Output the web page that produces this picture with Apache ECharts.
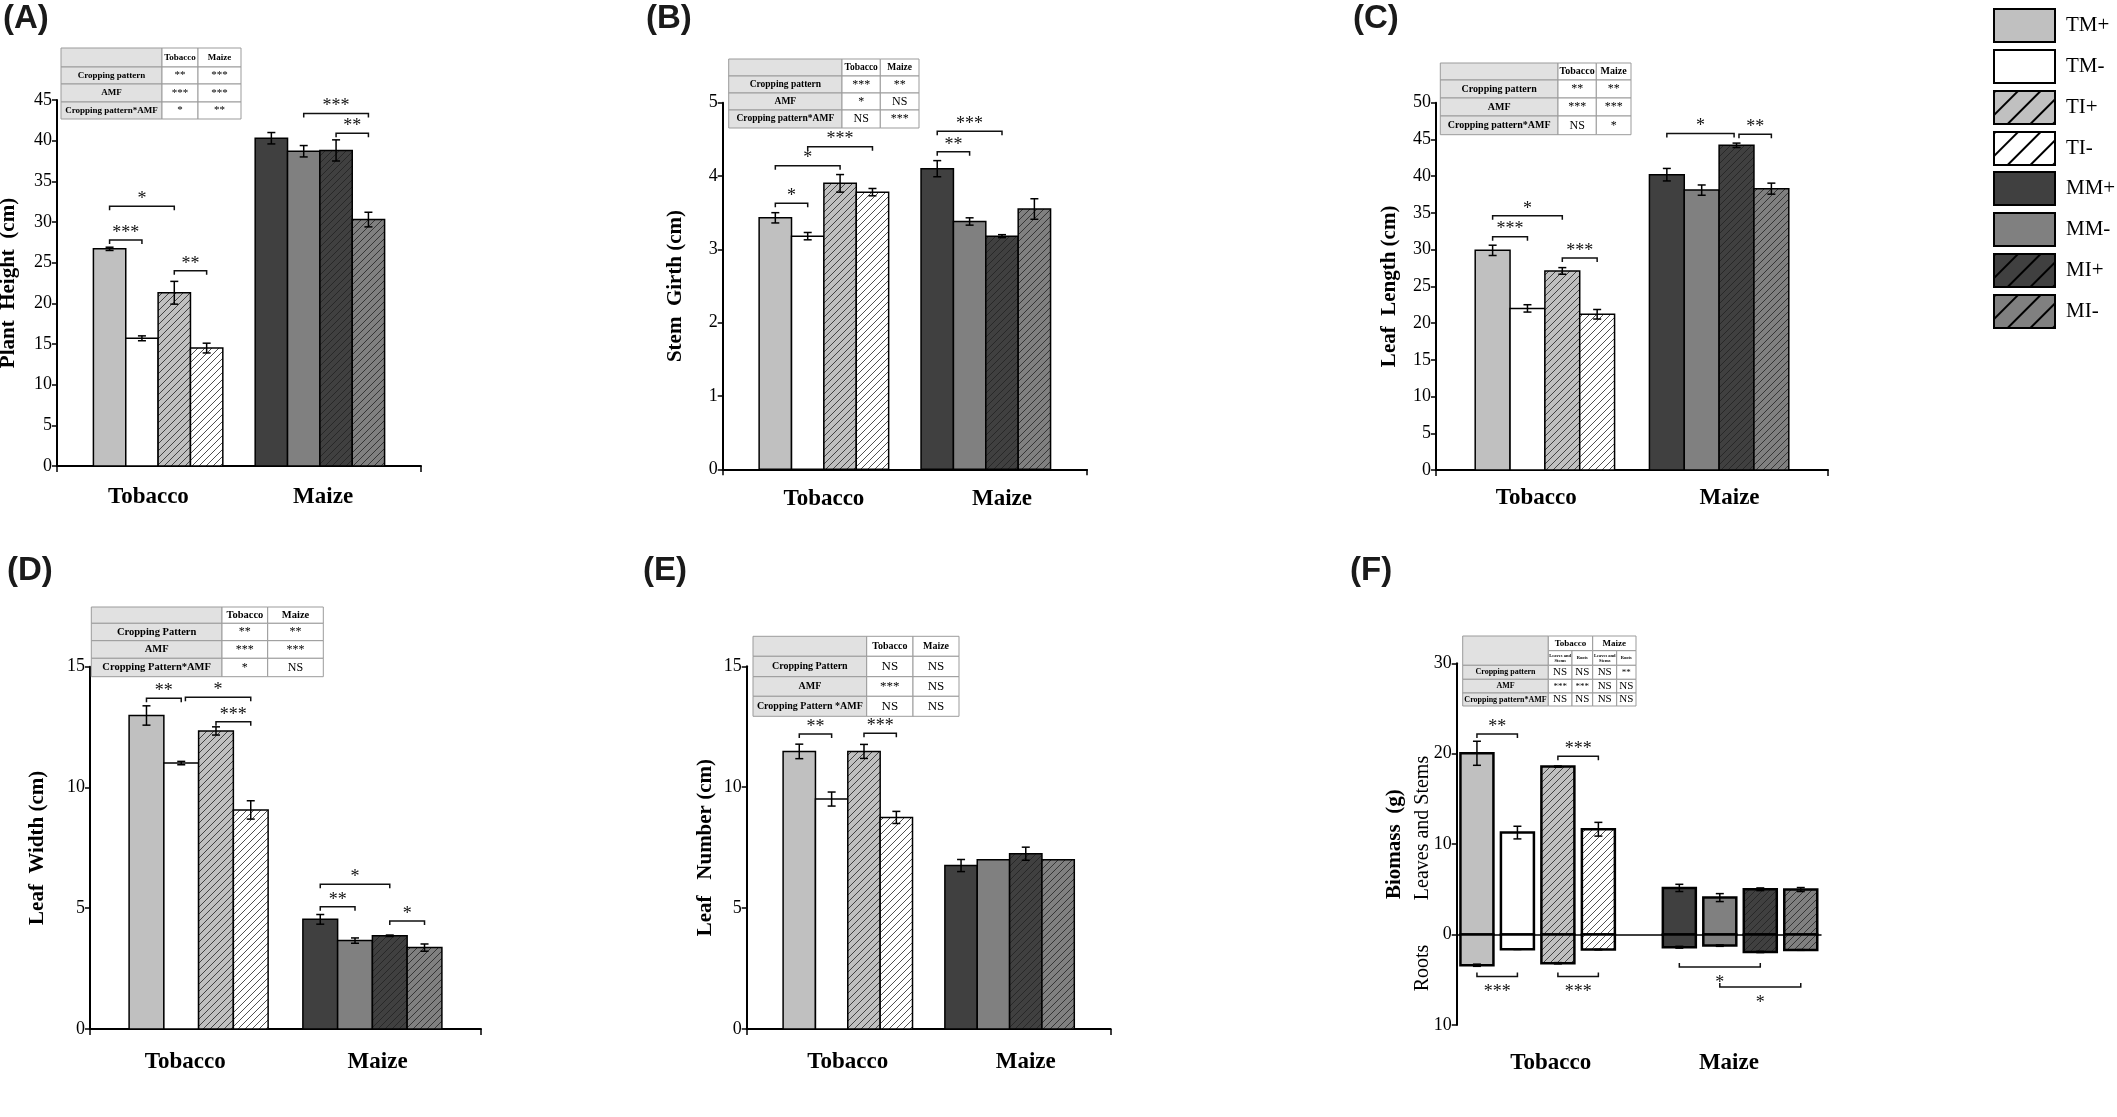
<!DOCTYPE html>
<html>
<head>
<meta charset="utf-8">
<script src="https://cdn.jsdelivr.net/npm/echarts@6/dist/echarts.min.js"></script>
<style>
  html, body { margin: 0; padding: 0; background: #fff; }
  #main { width: 2117px; height: 1117px; }
</style>
</head>
<body>
<div id="main"></div>
<script>
var groups = ['Tobacco', 'Maize'];
var treatments = ['TM+', 'TM-', 'TI+', 'TI-', 'MM+', 'MM-', 'MI+', 'MI-'];

// (A) plant height
var heightMean = [26.7, 15.7, 21.3, 14.5, 40.3, 38.7, 38.8, 30.3];
var heightErr = [0.2, 0.3, 1.4, 0.6, 0.7, 0.7, 1.3, 0.9];
var heightSig = [[0, 1, 27.8, '***'], [0, 2, 31.95, '*'], [2, 3, 24.0, '**'], [5, 7, 43.35, '***'], [6, 7, 40.9, '**']];
var heightTable = [['**', '***'], ['***', '***'], ['*', '**']];

// (B) stem girth
var girthMean = [3.43, 3.18, 3.90, 3.78, 4.10, 3.38, 3.18, 3.55];
var girthErr = [0.07, 0.05, 0.12, 0.05, 0.11, 0.05, 0.02, 0.14];
var girthSig = [[0, 1, 3.63, '*'], [0, 2, 4.14, '*'], [1, 3, 4.40, '***'], [4, 5, 4.33, '**'], [4, 6, 4.61, '***']];
var girthTable = [['***', '**'], ['*', 'NS'], ['NS', '***']];

// (C) leaf length
var lengthMean = [29.9, 22.0, 27.1, 21.2, 40.2, 38.1, 44.2, 38.3];
var lengthErr = [0.7, 0.5, 0.45, 0.65, 0.85, 0.7, 0.3, 0.75];
var lengthSig = [[0, 1, 31.76, '***'], [0, 2, 34.6, '*'], [2, 3, 28.86, '***'], [4, 5.93, 45.8, '*'], [6.07, 7, 45.7, '**']];
var lengthTable = [['**', '**'], ['***', '***'], ['NS', '*']];

// (D) leaf width
var widthMean = [12.98, 11.01, 12.34, 9.07, 4.54, 3.66, 3.86, 3.37];
var widthErr = [0.4, 0.07, 0.17, 0.38, 0.2, 0.11, 0.03, 0.15];
var widthSig = [[0, 1, 13.69, '**'], [1.12, 3, 13.73, '*'], [2, 3, 12.72, '***'], [4, 6, 5.99, '*'], [4, 5, 5.06, '**'], [6, 7, 4.47, '*']];
var widthTable = [['**', '**'], ['***', '***'], ['*', 'NS']];

// (E) leaf number
var numberMean = [11.48, 9.51, 11.48, 8.75, 6.76, 7.0, 7.25, 7.0];
var numberErr = [0.3, 0.29, 0.29, 0.25, 0.25, 0, 0.27, 0];
var numberSig = [[0, 1, 12.2, '**'], [2, 3, 12.23, '***']];
var numberTable = [['NS', 'NS'], ['***', 'NS'], ['NS', 'NS']];

// (F) biomass: leaves and stems up, roots down
var shootMean = [20.05, 11.28, 18.58, 11.65, 5.16, 4.09, 5.01, 4.98];
var shootErr = [1.33, 0.7, 0.07, 0.76, 0.4, 0.44, 0.15, 0.22];
var rootMean = [-3.39, -1.62, -3.17, -1.66, -1.4, -1.22, -1.92, -1.7];
var rootErr = [0.12, 0.03, 0.07, 0.03, 0.1, 0.08, 0.07, 0.04];
var biomassSig = [[0, 1, 22.19, '**'], [2, 3, 19.72, '***'], [0, 1, -4.64, '***'], [2, 3, -4.64, '***'], [4, 6, -3.58, '*'], [5, 7, -5.79, '*']];
var biomassSub = ['Leaves and\nStems', 'Roots', 'Leaves and\nStems', 'Roots'];
var biomassTable = [['NS', 'NS', 'NS', '**'], ['***', '***', 'NS', 'NS'], ['NS', 'NS', 'NS', 'NS']];

var effectRows = ['Cropping pattern', 'AMF', 'Cropping pattern*AMF'];
var effectRowsCap = ['Cropping Pattern', 'AMF', 'Cropping Pattern*AMF'];
var effectRowsE = ['Cropping Pattern', 'AMF', 'Cropping Pattern *AMF'];

// styles
var FONT = "'Liberation Serif', 'Times New Roman', serif";
var fills = ['#c0c0c0', '#ffffff', '#c0c0c0', '#ffffff', '#404040', '#808080', '#404040', '#808080'];
var hatched = [false, false, true, true, false, false, true, true];

var panels = [
  { letter: '(A)', lp: [3, 18.5], rect: [57, 100, 364, 366], y: [0, 45, 5], x: [-0.625, 1.625], bw: 0.2, lw: 1.5,
    name: 'Plant  Height  (cm)', gap: 38, lm: 20, catPos: [-0.06, 1.02],
    mean: heightMean, err: heightErr, sig: heightSig,
    table: { x: 61, y: 48, cols: [101, 36, 43], rows: [19, 17, 18, 17], f: 9, vf: 11, labels: effectRows, vals: heightTable } },
  { letter: '(B)', lp: [646, 18.5], rect: [722.7, 102.7, 364.3, 366.6], y: [0, 5, 1], x: [-0.625, 1.625], bw: 0.2, lw: 1.5,
    name: 'Stem  Girth (cm)', gap: 37, lm: 18, catPos: [0, 1.1],
    mean: girthMean, err: girthErr, sig: girthSig,
    table: { x: 728.7, y: 59, cols: [113.3, 38.3, 38.7], rows: [17, 17, 17, 18], f: 9.5, vf: 12, labels: effectRows, vals: girthTable } },
  { letter: '(C)', lp: [1353, 18.5], rect: [1436, 102.7, 392, 367.3], y: [0, 50, 5], x: [-0.625, 1.625], bw: 0.2, lw: 1.5,
    name: 'Leaf  Length (cm)', gap: 36, lm: 17, catPos: [-0.05, 1.06],
    mean: lengthMean, err: lengthErr, sig: lengthSig,
    table: { x: 1440.3, y: 63, cols: [117.7, 38.3, 34.7], rows: [17, 18, 18, 18.7], f: 10, vf: 12, labels: effectRows, vals: lengthTable } },
  { letter: '(D)', lp: [7, 571], rect: [90, 666.7, 391, 362.3], y: [0, 15, 5], x: [-0.625, 1.625], bw: 0.2, lw: 1.5,
    name: 'Leaf  Width (cm)', gap: 42, lm: 22, catPos: [-0.077, 1.03],
    mean: widthMean, err: widthErr, sig: widthSig,
    table: { x: 91.3, y: 607, cols: [130.7, 45.7, 55.6], rows: [16.3, 17.4, 17.6, 18.4], f: 10.5, vf: 12, labels: effectRowsCap, vals: widthTable } },
  { letter: '(E)', lp: [643, 571], rect: [746.7, 666.3, 364, 362.7], y: [0, 15, 5], x: [-0.625, 1.625], bw: 0.2, lw: 1.5,
    name: 'Leaf   Number (cm)', gap: 31, lm: 22, catPos: [0, 1.1],
    mean: numberMean, err: numberErr, sig: numberSig,
    table: { x: 753, y: 636.3, cols: [113.7, 46.3, 46], rows: [20, 20.4, 19.6, 20], f: 10, vf: 13, labels: effectRowsE, vals: numberTable } },
  { letter: '(F)', lp: [1350, 571], rect: [1456.7, 663.3, 364.3, 361.7], y: [-10, 30, 10], x: [-0.4, 1.4], bw: 0.163, lw: 2.5,
    name: 'Biomass  (g)', gap: 52, lm: 27, catPos: [0.065, 0.945],
    mean: shootMean, err: shootErr, mean2: rootMean, err2: rootErr, sig: biomassSig }
];

function barPos(i) {
  return Math.floor(i / 4) + (i % 4 - 1.5) * 0.2;
}

function barRenderer(bw, lw) {
  return function (params, api) {
    var i = api.value(0), m = api.value(1), e = api.value(2);
    var xc = barPos(i);
    var p0 = api.coord([xc - bw / 2, 0]);
    var p1 = api.coord([xc + bw / 2, m]);
    var x0 = Math.min(p0[0], p1[0]), x1 = Math.max(p0[0], p1[0]);
    var y0 = Math.min(p0[1], p1[1]), y1 = Math.max(p0[1], p1[1]);
    var kids = [{ type: 'rect', shape: { x: x0, y: y0, width: x1 - x0, height: y1 - y0 }, style: { fill: fills[i] } }];
    if (hatched[i]) {
      var s = 7;
      for (var c = Math.ceil((x0 + y0) / s) * s; c < x1 + y1; c += s) {
        var xa = Math.max(x0, c - y1), xb = Math.min(x1, c - y0);
        if (xb - xa > 0.5) {
          kids.push({ type: 'line', shape: { x1: xa, y1: c - xa, x2: xb, y2: c - xb }, style: { stroke: '#222', lineWidth: 0.8 } });
        }
      }
    }
    kids.push({ type: 'rect', shape: { x: x0, y: y0, width: x1 - x0, height: y1 - y0 }, style: { fill: null, stroke: '#000', lineWidth: lw } });
    if (e > 0) {
      var a = api.coord([xc, m - e]), b = api.coord([xc, m + e]);
      var st = { stroke: '#000', lineWidth: 1.5 };
      kids.push({ type: 'line', shape: { x1: a[0], y1: a[1], x2: b[0], y2: b[1] }, style: st });
      kids.push({ type: 'line', shape: { x1: a[0] - 4, y1: a[1], x2: a[0] + 4, y2: a[1] }, style: st });
      kids.push({ type: 'line', shape: { x1: b[0] - 4, y1: b[1], x2: b[0] + 4, y2: b[1] }, style: st });
    }
    return { type: 'group', children: kids };
  };
}

function sigRenderer(list) {
  return function (params, api) {
    var b = list[params.dataIndex];
    var below = b[2] < 0;
    var p = api.coord([barPos(b[0]), b[2]]), q = api.coord([barPos(b[1]), b[2]]);
    var t = below ? -4 : 4;
    return { type: 'group', children: [
      { type: 'polyline', shape: { points: [[p[0], p[1] + t], [p[0], p[1]], [q[0], q[1]], [q[0], q[1] + t]] },
        style: { fill: null, stroke: '#111', lineWidth: 1.5 } },
      { type: 'text', x: (p[0] + q[0]) / 2, y: below ? p[1] + 16 : p[1] - 7,
        style: { text: b[3], textAlign: 'center', textVerticalAlign: 'middle', font: '18px ' + FONT, fill: '#111' } }
    ] };
  };
}

function tableGraphics(t, cells) {
  var out = [];
  var xs = [t.x], ys = [t.y];
  t.cols.forEach(function (w) { xs.push(xs[xs.length - 1] + w); });
  t.rows.forEach(function (h) { ys.push(ys[ys.length - 1] + h); });
  cells.forEach(function (c) {
    var x0 = xs[c.c], x1 = xs[c.c + (c.cs || 1)], y0 = ys[c.r], y1 = ys[c.r + (c.rs || 1)];
    out.push({ type: 'rect', z: 20, shape: { x: x0, y: y0, width: x1 - x0, height: y1 - y0 },
      style: { fill: c.grey ? '#e1e1e1' : '#fff', stroke: '#9b9b9b', lineWidth: 1 } });
    if (c.text) {
      out.push({ type: 'text', z: 21, x: (x0 + x1) / 2, y: (y0 + y1) / 2,
        style: { text: c.text, textAlign: 'center', textVerticalAlign: 'middle', font: c.font, fill: '#000', lineHeight: c.lh } });
    }
  });
  return out;
}

function effectCells(t) {
  var bold = 'bold ' + t.f + 'px ' + FONT, reg = t.vf + 'px ' + FONT;
  var cells = [{ r: 0, c: 0, grey: true }, { r: 0, c: 1, text: 'Tobacco', font: bold }, { r: 0, c: 2, text: 'Maize', font: bold }];
  t.labels.forEach(function (lab, r) {
    cells.push({ r: r + 1, c: 0, grey: true, text: lab, font: bold });
    cells.push({ r: r + 1, c: 1, text: t.vals[r][0], font: reg });
    cells.push({ r: r + 1, c: 2, text: t.vals[r][1], font: reg });
  });
  return cells;
}

function biomassCells() {
  var bold = 'bold 8px ' + FONT, reg = '11px ' + FONT;
  var cells = [{ r: 0, c: 0, rs: 2, grey: true },
    { r: 0, c: 1, cs: 2, text: 'Tobacco', font: 'bold 9px ' + FONT },
    { r: 0, c: 3, cs: 2, text: 'Maize', font: 'bold 9px ' + FONT }];
  biomassSub.forEach(function (s, j) {
    cells.push({ r: 1, c: j + 1, text: s, font: 'bold 4.5px ' + FONT, lh: 5 });
  });
  effectRows.forEach(function (lab, r) {
    cells.push({ r: r + 2, c: 0, grey: true, text: lab, font: bold });
    biomassTable[r].forEach(function (v, j) {
      cells.push({ r: r + 2, c: j + 1, text: v, font: v === 'NS' ? reg : '9px ' + FONT });
    });
  });
  return cells;
}

var grids = [], xAxes = [], yAxes = [], series = [], graphics = [];

panels.forEach(function (p, k) {
  var isF = !!p.mean2;
  grids.push({ left: p.rect[0], top: p.rect[1], width: p.rect[2], height: p.rect[3], containLabel: false, outerBoundsMode: 'none' });
  xAxes.push({
    gridIndex: k, type: 'value', min: p.x[0], max: p.x[1],
    axisLine: { show: !isF, onZero: false, lineStyle: { color: '#000', width: 2 } },
    axisTick: { show: !isF, customValues: p.x, length: 6, lineStyle: { color: '#000', width: 1.5 } },
    axisLabel: {
      customValues: p.catPos, margin: p.lm, color: '#000', fontFamily: FONT, fontSize: 23, fontWeight: 'bold',
      formatter: function (v) { return groups[v < 0.5 ? 0 : 1]; }
    },
    splitLine: { show: false }
  });
  yAxes.push({
    gridIndex: k, type: 'value', min: p.y[0], max: p.y[1], interval: p.y[2],
    name: p.name, nameLocation: 'middle', nameRotate: 90, nameGap: p.gap,
    nameTextStyle: { fontFamily: FONT, fontWeight: 'bold', fontSize: 21, color: '#000' },
    axisLine: { show: true, onZero: false, lineStyle: { color: '#000', width: 2 } },
    axisTick: { show: true, length: 5, lineStyle: { color: '#000', width: 1.5 } },
    axisLabel: { color: '#000', fontFamily: FONT, fontSize: 18, margin: 5, formatter: function (v) { return Math.abs(v); } },
    splitLine: { show: false }
  });
  series.push({
    type: 'custom', xAxisIndex: k, yAxisIndex: k, clip: false, z: 3,
    data: p.mean.map(function (m, i) { return [i, m, p.err[i]]; }),
    renderItem: barRenderer(p.bw, p.lw)
  });
  if (isF) {
    series.push({
      type: 'custom', xAxisIndex: k, yAxisIndex: k, clip: false, z: 3,
      data: p.mean2.map(function (m, i) { return [i, m, p.err2[i]]; }),
      renderItem: barRenderer(p.bw, p.lw)
    });
  }
  series.push({
    type: 'custom', xAxisIndex: k, yAxisIndex: k, clip: false, z: 4,
    data: p.sig.map(function (b) { return [barPos(b[0]), b[2]]; }),
    renderItem: sigRenderer(p.sig)
  });
  graphics.push({ type: 'text', x: p.lp[0], y: p.lp[1],
    style: { text: p.letter, textVerticalAlign: 'middle', font: 'bold 33px "Liberation Sans", Arial, sans-serif', fill: '#1a1a1a' } });
  if (p.table) {
    graphics = graphics.concat(tableGraphics(p.table, effectCells(p.table)));
  }
});

// zero baseline of panel F
xAxes.push({
  gridIndex: 5, type: 'value', min: panels[5].x[0], max: panels[5].x[1], position: 'bottom',
  axisLine: { show: true, onZero: true, lineStyle: { color: '#000', width: 1.5 } },
  axisTick: { show: false }, axisLabel: { show: false }, splitLine: { show: false }
});
graphics = graphics.concat(tableGraphics(
  { x: 1462.7, y: 636, cols: [85.6, 23.7, 20.7, 24, 19.3], rows: [14.7, 14.6, 14, 13.7, 13] }, biomassCells()));
graphics.push({ type: 'text', x: 1423, y: 828, rotation: Math.PI / 2,
  style: { text: 'Leaves and Stems', textAlign: 'center', textVerticalAlign: 'middle', font: '20px ' + FONT, fill: '#000' } });
graphics.push({ type: 'text', x: 1423, y: 968, rotation: Math.PI / 2,
  style: { text: 'Roots', textAlign: 'center', textVerticalAlign: 'middle', font: '20px ' + FONT, fill: '#000' } });

// legend entries
var hatchDecal = { symbol: 'rect', symbolSize: 1, dashArrayX: [1, 0], dashArrayY: [1.5, 14], rotation: -Math.PI / 4, color: '#000' };
treatments.forEach(function (name, i) {
  var st = { color: fills[i], borderColor: '#000', borderWidth: 2 };
  if (hatched[i]) st.decal = hatchDecal;
  series.push({ type: 'custom', name: name, xAxisIndex: 0, yAxisIndex: 0, data: [], renderItem: function () { return null; }, itemStyle: st });
});
function legendAt(top, names) {
  return {
    data: names, orient: 'vertical', left: 1993, top: top, itemWidth: 61, itemHeight: 33, itemGap: 6,
    icon: 'rect', selectedMode: false, padding: 0,
    itemStyle: { borderColor: '#000', borderWidth: 2 },
    textStyle: { fontFamily: FONT, fontSize: 21, color: '#000', padding: [0, 0, 0, 6] }
  };
}

var chart = echarts.init(document.getElementById('main'));
chart.setOption({
  backgroundColor: '#fff',
  animation: false,
  grid: grids,
  xAxis: xAxes,
  yAxis: yAxes,
  legend: [legendAt(8, treatments.slice(0, 4)), legendAt(171, treatments.slice(4))],
  graphic: { elements: graphics },
  series: series
});
</script>
</body>
</html>
